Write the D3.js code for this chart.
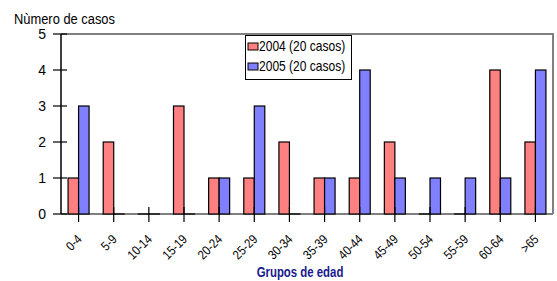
<!DOCTYPE html>
<html>
<head>
<meta charset="utf-8">
<script src="https://cdn.jsdelivr.net/npm/d3@7"></script>
<style>
  body { margin: 0; background: #fff; }
  svg { display: block; }
  text { font-family: "Liberation Sans", Arial, sans-serif; }
</style>
</head>
<body>
<svg id="chart" width="557" height="281"></svg>
<script>
// age groups and cases per year
var groups = ["0-4", "5-9", "10-14", "15-19", "20-24", "25-29", "30-34", "35-39", "40-44", "45-49", "50-54", "55-59", "60-64", ">65"];
var cases2004 = [1, 2, 0, 3, 1, 1, 2, 1, 1, 2, 0, 0, 4, 2];
var cases2005 = [3, 0, 0, 0, 1, 3, 0, 1, 4, 1, 1, 1, 1, 4];
var seriesNames = ["2004 (20 casos)", "2005 (20 casos)"];
var yTicks = [0, 1, 2, 3, 4, 5];

var svg = d3.select('#chart');
var mLeft = 61, mRight = 553, mTop = 34, mBottom = 214;
var colors = ['#ff8080', '#8080ff'];

var x = d3.scaleBand().domain(groups).range([mLeft, mRight]);
var y = d3.scaleLinear().domain([0, 5]).range([mBottom, mTop]);
var barW = 10.5;

// narrow text helper (no Arial Narrow here, so squeeze horizontally)
function ntext(g, tx, ty, str, size, anchor, extra, sq) {
  return g.append('text')
    .attr('transform', 'translate(' + tx + ',' + ty + ')' + (extra || '') + ' scale(' + (sq || 0.86) + ',1)')
    .attr('font-size', size).attr('text-anchor', anchor || 'start')
    .text(str);
}

// frame: top and right in gray
svg.append('path')
  .attr('d', 'M' + mLeft + ',' + mTop + 'H' + mRight + 'V' + mBottom)
  .attr('fill', 'none').attr('stroke', '#808080').attr('stroke-width', 2);
// baseline
svg.append('line').attr('x1', mLeft).attr('x2', mRight).attr('y1', mBottom).attr('y2', mBottom)
  .attr('stroke', '#808080').attr('stroke-width', 2);

// bars (zero values still leave their black outline on the baseline)
var series = [cases2004, cases2005];
series.forEach(function(vals, s) {
  svg.append('g').selectAll('rect').data(vals).enter().append('rect')
    .attr('x', function(d, i) { return x(groups[i]) + x.bandwidth() / 2 - barW + s * barW; })
    .attr('y', function(d) { return Math.min(y(d), y(0) - 0.01); })
    .attr('width', barW)
    .attr('height', function(d) { return Math.max(y(0) - y(d), 0.01); })
    .attr('fill', colors[s])
    .attr('stroke', '#000').attr('stroke-width', 1.2);
});

// y axis
svg.append('line').attr('x1', mLeft).attr('x2', mLeft).attr('y1', mTop).attr('y2', mBottom)
  .attr('stroke', '#000').attr('stroke-width', 1.5);
var yt = svg.append('g');
yTicks.forEach(function(t) {
  yt.append('line').attr('x1', 53).attr('x2', 67).attr('y1', y(t)).attr('y2', y(t))
    .attr('stroke', '#000').attr('stroke-width', 1.2);
  yt.append('text').attr('x', 46).attr('y', y(t) + 5).attr('text-anchor', 'end')
    .attr('font-size', 14)
    .text(t);
});

// x ticks and labels
var xt = svg.append('g');
groups.forEach(function(g) {
  var cx = x(g) + x.bandwidth() / 2;
  xt.append('line').attr('x1', cx).attr('x2', cx).attr('y1', 207).attr('y2', 222)
    .attr('stroke', '#000').attr('stroke-width', 1.2);
  ntext(xt, cx + 4, 240, g, 13, 'end', ' rotate(-45)');
});

// titles
ntext(svg, 14, 24, 'Nùmero de casos', 15);
ntext(svg, 300, 277, 'Grupos de edad', 15, 'middle', '', 0.76)
  .attr('font-weight', 'bold').attr('fill', '#1a1a8c');

// legend
var lg = svg.append('g');
lg.append('rect').attr('x', 245.5).attr('y', 35.5).attr('width', 106).attr('height', 44)
  .attr('fill', '#fff').attr('stroke', '#000');
seriesNames.forEach(function(n, i) {
  var ly = 43 + i * 20;
  lg.append('rect').attr('x', 248).attr('y', ly).attr('width', 10).attr('height', 7)
    .attr('fill', colors[i]).attr('stroke', '#000');
  ntext(lg, 259, ly + 8, n, 14);
});
</script>
</body>
</html>
